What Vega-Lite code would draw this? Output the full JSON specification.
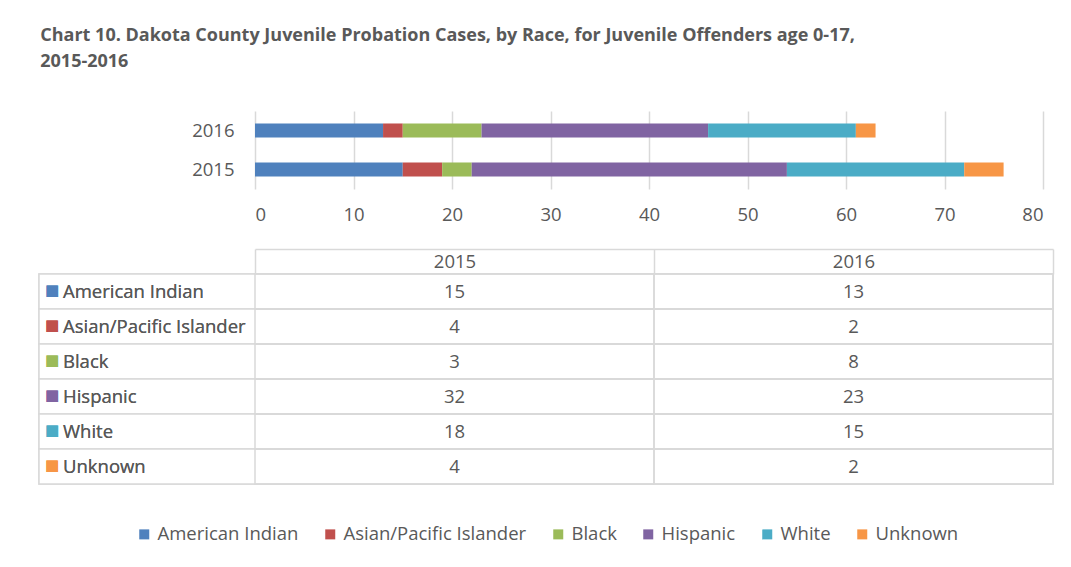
{
  "$schema": "https://vega.github.io/schema/vega-lite/v6.json",
  "background": "white",
  "padding": {"left": 38, "top": 27, "right": 19, "bottom": 10},
  "bounds": "flush",
  "title": {
    "text": ["Chart 10. Dakota County Juvenile Probation Cases, by Race, for Juvenile Offenders age 0-17,", "2015-2016"],
    "anchor": "start", "font": "Open Sans", "fontSize": 18, "fontWeight": "bold",
    "color": "#595959", "lineHeight": 26, "offset": 40, "dx": 2
  },
  "config": {"view": {"stroke": null}, "font": "Open Sans"},
  "datasets": {
    "cases": [
      {"race": "American Indian", "year": "2015", "cases": 15},
      {"race": "Asian/Pacific Islander", "year": "2015", "cases": 4},
      {"race": "Black", "year": "2015", "cases": 3},
      {"race": "Hispanic", "year": "2015", "cases": 32},
      {"race": "White", "year": "2015", "cases": 18},
      {"race": "Unknown", "year": "2015", "cases": 4},
      {"race": "American Indian", "year": "2016", "cases": 13},
      {"race": "Asian/Pacific Islander", "year": "2016", "cases": 2},
      {"race": "Black", "year": "2016", "cases": 8},
      {"race": "Hispanic", "year": "2016", "cases": 23},
      {"race": "White", "year": "2016", "cases": 15},
      {"race": "Unknown", "year": "2016", "cases": 2}
    ]
  },
  "spacing": 85,
  "resolve": {"scale": {"x": "independent", "y": "independent", "color": "shared"}, "legend": {"color": "shared"}},
  "vconcat": [
    {
      "width": 1014, "height": 78,
      "data": {"name": "cases"},
      "transform": [
        {"calculate": "indexof(['American Indian','Asian/Pacific Islander','Black','Hispanic','White','Unknown'], datum.race)", "as": "raceOrder"}
      ],
      "mark": {"type": "bar"},
      "encoding": {
        "y": {
          "field": "year", "type": "nominal", "sort": ["2016", "2015"],
          "scale": {"paddingInner": 0.64, "paddingOuter": 0.32},
          "axis": {"title": null, "offset": -216, "labelPadding": 21, "ticks": false, "domain": false,
                   "labelFontSize": 18.5, "labelColor": "#595959"}
        },
        "x": {
          "field": "cases", "type": "quantitative", "stack": "zero",
          "scale": {"domain": [0, 80], "range": [216, 1004], "nice": false},
          "axis": {"title": null, "values": [0, 10, 20, 30, 40, 50, 60, 70, 80], "grid": true,
                   "gridColor": "#d9d9d9", "gridWidth": 1.5, "domain": false, "ticks": false,
                   "labelFontSize": 18.5, "labelColor": "#595959", "labelPadding": 16}
        },
        "order": {"field": "raceOrder", "type": "quantitative"},
        "color": {
          "field": "race", "type": "nominal",
          "sort": ["American Indian", "Asian/Pacific Islander", "Black", "Hispanic", "White", "Unknown"],
          "scale": {
            "domain": ["American Indian", "Asian/Pacific Islander", "Black", "Hispanic", "White", "Unknown"],
            "range": ["#4F81BD", "#C0504D", "#9BBB59", "#8064A2", "#4BACC6", "#F79646"]
          },
          "legend": {
            "title": null, "orient": "none", "direction": "horizontal", "legendX": 96, "legendY": 414,
            "symbolType": "square", "symbolSize": 100, "symbolStrokeWidth": 0,
            "labelFontSize": 18.5, "labelColor": "#595959", "labelOffset": 4, "columnPadding": 22, "labelLimit": 300
          }
        }
      }
    },
    {
      "width": 1014, "height": 210,
      "data": {"name": "cases"},
      "resolve": {"scale": {"x": "independent"}, "axis": {"x": "independent"}},
      "encoding": {
        "y": {
          "field": "race", "type": "nominal",
          "sort": ["American Indian", "Asian/Pacific Islander", "Black", "Hispanic", "White", "Unknown"],
          "scale": {"paddingInner": 0, "paddingOuter": 0},
          "axis": null
        }
      },
      "layer": [
        {
          "mark": {"type": "rect", "fill": "white", "stroke": "#d9d9d9", "strokeWidth": 1.5},
          "encoding": {
            "x": {"datum": 0, "type": "quantitative", "scale": {"domain": [0, 1]}, "axis": null},
            "x2": {"datum": 1}
          }
        },
        {
          "mark": {"type": "rect", "fill": "transparent", "stroke": "#d9d9d9", "strokeWidth": 1.5},
          "encoding": {
            "x": {
              "field": "year", "type": "nominal",
              "scale": {"domain": ["2015", "2016"], "range": [216, 1014], "paddingInner": 0, "paddingOuter": 0},
              "axis": {"orient": "top", "title": null, "offset": 25, "tickSize": -25, "tickBand": "extent",
                       "domain": true, "domainColor": "#d9d9d9", "domainWidth": 1.5,
                       "ticks": true, "tickColor": "#d9d9d9", "tickWidth": 1.5,
                       "labelFontSize": 18.5, "labelColor": "#595959", "labelBaseline": "middle",
                       "labelPadding": 12.5, "labelAngle": 0, "labelAlign": "center"}
            }
          }
        },
        {
          "mark": {"type": "text", "fontSize": 18.5, "color": "#595959"},
          "encoding": {
            "x": {
              "field": "year", "type": "nominal",
              "scale": {"domain": ["2015", "2016"], "range": [216, 1014], "paddingInner": 0, "paddingOuter": 0},
              "axis": null
            },
            "text": {"field": "cases"}
          }
        },
        {
          "mark": {"type": "text", "fontSize": 18.5, "color": "#595959", "align": "left", "dx": 24},
          "encoding": {
            "x": {"datum": 0, "type": "quantitative", "scale": {"domain": [0, 1]}, "axis": null},
            "text": {"field": "race"}
          }
        },
        {
          "mark": {"type": "text", "fontSize": 15, "font": "DejaVu Sans", "align": "left", "dx": 6, "dy": -2},
          "encoding": {
            "x": {"datum": 0, "type": "quantitative", "scale": {"domain": [0, 1]}, "axis": null},
            "text": {"value": "■"},
            "color": {"field": "race", "type": "nominal", "legend": null}
          }
        }
      ]
    }
  ]
}
